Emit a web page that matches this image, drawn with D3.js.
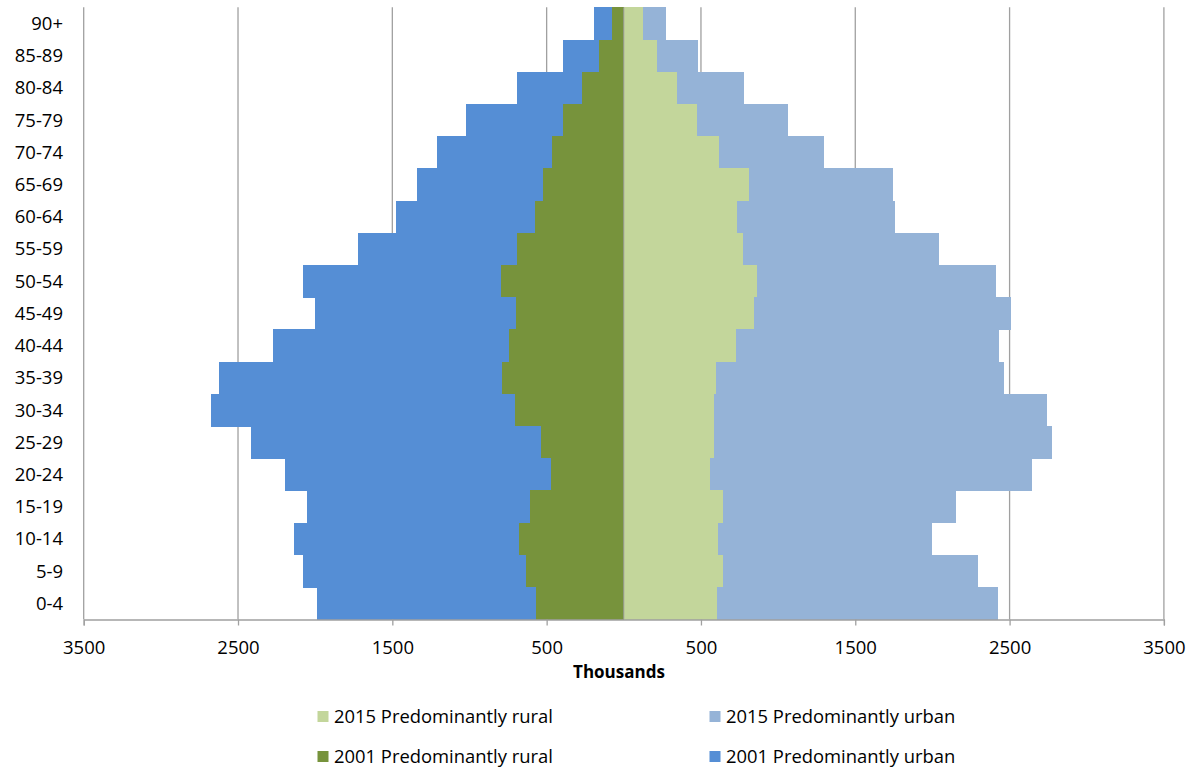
<!DOCTYPE html>
<html>
<head>
<meta charset="utf-8">
<script src="https://cdn.jsdelivr.net/npm/d3@7/dist/d3.min.js"></script>
<style>
  html, body { margin: 0; padding: 0; background: #fff; }
  svg { display: block; }
  text { font-family: "Open Sans", "DejaVu Sans", sans-serif; fill: #000; }
</style>
</head>
<body>
<svg id="chart" width="1191" height="771"></svg>
<script>
// Age groups, top to bottom
const ageGroups = ["90+","85-89","80-84","75-79","70-74","65-69","60-64","55-59","50-54","45-49",
                   "40-44","35-39","30-34","25-29","20-24","15-19","10-14","5-9","0-4"];
// Thousands
const rural2001 = [78,159,271,394,467,522,573,690,796,701,742,789,705,537,470,610,677,636,569];
const urban2001 = [115,233,419,629,746,816,905,1033,1285,1298,1534,1833,1972,1877,1726,1441,1460,1441,1417];
const rural2015 = [124,215,345,474,617,813,731,773,863,844,725,598,585,583,559,645,611,641,602];
const urban2015 = [149,266,436,588,683,934,1027,1272,1547,1668,1707,1866,2158,2194,2087,1510,1389,1657,1821];
const tickValues = [-3500,-2500,-1500,-500,500,1500,2500,3500];
const seriesNames = ["2015 Predominantly rural","2015 Predominantly urban","2001 Predominantly rural","2001 Predominantly urban"];
const colors = {
  "2015 Predominantly rural": "#C3D69B",
  "2015 Predominantly urban": "#95B3D7",
  "2001 Predominantly rural": "#77933C",
  "2001 Predominantly urban": "#558ED5"
};

const svg = d3.select("#chart");
const x = d3.scaleLinear().domain([-3500, 3500]).range([83.7, 1163.9]);
const y = d3.scaleBand().domain(ageGroups).range([7.3, 619.3]).padding(0);

// gridlines
svg.append("g").selectAll("line").data(tickValues).join("line")
  .attr("x1", d => x(d)).attr("x2", d => x(d))
  .attr("y1", 7.3).attr("y2", 619.3)
  .attr("stroke", "#A0A0A0").attr("stroke-width", 1.3);

// bars
const rows = ageGroups.map((a, i) => ({
  age: a, r01: rural2001[i], u01: urban2001[i], r15: rural2015[i], u15: urban2015[i]
}));
const rects = [];
rows.forEach(r => {
  rects.push({age: r.age, x0: -r.r01, x1: 0, s: "2001 Predominantly rural"});
  rects.push({age: r.age, x0: -(r.r01 + r.u01), x1: -r.r01, s: "2001 Predominantly urban"});
  rects.push({age: r.age, x0: 0, x1: r.r15, s: "2015 Predominantly rural"});
  rects.push({age: r.age, x0: r.r15, x1: r.r15 + r.u15, s: "2015 Predominantly urban"});
});
svg.append("g").attr("shape-rendering", "crispEdges").selectAll("rect").data(rects).join("rect")
  .attr("x", d => x(d.x0)).attr("width", d => x(d.x1) - x(d.x0))
  .attr("y", d => y(d.age)).attr("height", y.bandwidth() + 0.5)
  .attr("fill", d => colors[d.s]);

// center axis line
svg.append("line").attr("x1", x(0)).attr("x2", x(0)).attr("y1", 7.3).attr("y2", 619.3)
  .attr("stroke", "#A0A0A0").attr("stroke-width", 1);

// bottom axis
const xAxis = d3.axisBottom(x).tickValues(tickValues).tickSize(6).tickPadding(15)
  .tickFormat(d => Math.abs(d));
const gx = svg.append("g").attr("transform", "translate(0,619.5)").call(xAxis);
gx.select(".domain").attr("stroke", "#A0A0A0").attr("stroke-width", 1.3);
gx.selectAll(".tick line").attr("stroke", "#A0A0A0").attr("stroke-width", 1.3);
gx.selectAll(".tick text").attr("font-size", "18.5px").attr("font-family", "Open Sans").attr("fill", "#000");

// y labels
svg.append("g").selectAll("text").data(ageGroups).join("text")
  .attr("x", 63).attr("y", d => y(d) + y.bandwidth() / 2 + 6.6)
  .attr("text-anchor", "end").attr("font-size", "18.5px").text(d => d);

// axis title
svg.append("text").attr("x", 619).attr("y", 678).attr("text-anchor", "middle")
  .attr("font-size", "17px").attr("font-weight", "bold").text("Thousands");

// legend
const legendPos = [
  {s: seriesNames[0], sx: 317.5, tx: 334, y: 723},
  {s: seriesNames[1], sx: 709.5, tx: 726, y: 723},
  {s: seriesNames[2], sx: 317.5, tx: 334, y: 763},
  {s: seriesNames[3], sx: 709.5, tx: 726, y: 763}
];
const lg = svg.append("g").selectAll("g").data(legendPos).join("g");
lg.append("rect").attr("x", d => d.sx).attr("y", d => d.y - 12).attr("width", 11).attr("height", 11)
  .attr("fill", d => colors[d.s]);
lg.append("text").attr("x", d => d.tx).attr("y", d => d.y).attr("font-size", "18.4px").text(d => d.s);
</script>
</body>
</html>
